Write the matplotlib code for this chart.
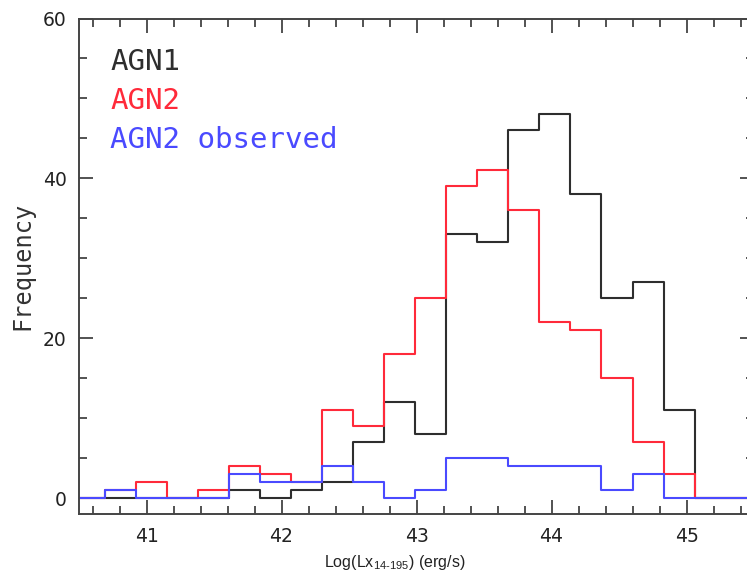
import numpy as np
import matplotlib
matplotlib.use("Agg")
import matplotlib.pyplot as plt
from matplotlib.ticker import MultipleLocator

# Bin edges (log Lx, width 0.23 dex)
bin_left = 40.23
bin_width = 0.23
# counts per bin (bins from 40.23 upward), padded with zero bins
agn1 = [0, 0, 0, 0, 0, 0, 1, 0, 1, 2, 7, 12, 8, 33, 32, 46, 48, 38, 25, 27, 11, 0, 0, 0]
agn2 = [0, 0, 1, 2, 0, 1, 4, 3, 2, 11, 9, 18, 25, 39, 41, 36, 22, 21, 15, 7, 3, 0, 0, 0]
agn2_obs = [0, 0, 1, 0, 0, 0, 3, 2, 2, 4, 2, 0, 1, 5, 5, 4, 4, 4, 1, 3, 0, 0, 0, 0]

labels = ["AGN1", "AGN2", "AGN2 observed"]
colors = ["#2e2e2e", "#ff2a3a", "#4a4aff"]
xticks = [41, 42, 43, 44, 45]
yticks = [0, 20, 40, 60]

plt.rcParams['mathtext.fontset'] = 'custom'
plt.rcParams['mathtext.rm'] = 'Liberation Sans'

W, H = 747, 576
fig = plt.figure(figsize=(W / 100, H / 100), dpi=100)
ax = fig.add_axes([79 / W, (576 - 514) / H, (754 - 79) / W, (514 - 18.5) / H])

edges = bin_left + bin_width * np.arange(len(agn1) + 1)
for data, c in zip([agn1, agn2, agn2_obs], colors):
    yv = np.append(data, data[-1])
    ax.step(edges, yv, where='post', color=c, linewidth=1.5)

ax.set_xlim(40.5, 45.5)
ax.set_ylim(-2, 60)
ax.set_xticks(xticks)
ax.set_yticks(yticks)
ax.xaxis.set_minor_locator(MultipleLocator(0.2))
ax.yaxis.set_minor_locator(MultipleLocator(5))
ax.tick_params(which='both', direction='in', top=True, right=True,
               color='#444444', width=1.3, labelcolor='#222222', labelsize=13.5)
ax.tick_params(which='major', length=10)
ax.tick_params(which='minor', length=6)
ax.tick_params(axis='y', pad=9)
ax.tick_params(axis='x', pad=9)
for s in ax.spines.values():
    s.set_color('#444444')
    s.set_linewidth(1.4)

ys = [53.6, 48.7, 43.75]
for lab, c, y in zip(labels, colors, ys):
    ax.text(40.73, y, lab, color=c, fontsize=21, family='DejaVu Sans Mono',
            va='baseline', ha='left')

fig.text(22 / W, 1 - 266 / H, "Frequency", rotation=90, fontsize=17,
         family='DejaVu Sans Mono', color='#333333', ha='center', va='center')
fig.text(395 / W, 1 - 563 / H, r"Log(Lx$_{\mathrm{14\text{-}195}}$) (erg/s)",
         fontsize=11.5, family='Liberation Sans', color='#222222',
         ha='center', va='center')

fig.savefig("out.png", dpi=100)
